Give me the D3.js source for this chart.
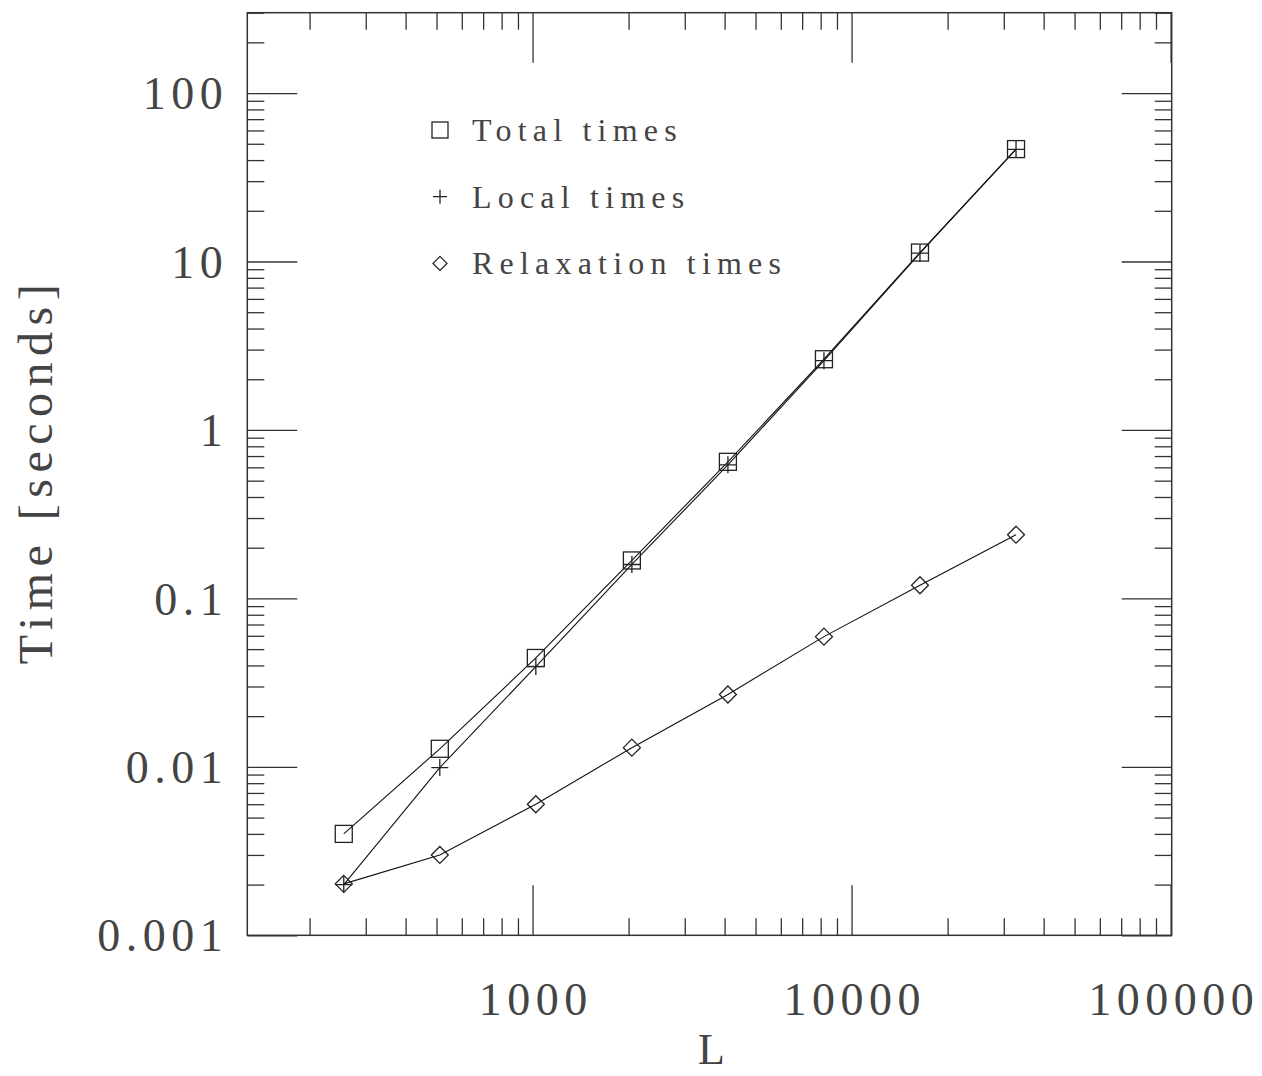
<!DOCTYPE html>
<html>
<head>
<meta charset="utf-8">
<script src="https://cdn.jsdelivr.net/npm/d3@7"></script>
<style>
  html, body { margin: 0; padding: 0; background: #fff; }
  svg { display: block; }
  text { font-family: "Liberation Serif", serif; fill: #444; }
</style>
</head>
<body>
<svg id="chart" width="1262" height="1076"></svg>
<script>
// ---- data ----
const L = [256, 512, 1024, 2048, 4096, 8192, 16384, 32768];
const totalTimes = [0.0040, 0.0128, 0.0443, 0.168, 0.647, 2.63, 11.3, 46.5];
const localTimes = [0.0020, 0.0099, 0.0394, 0.159, 0.621, 2.58, 11.2, 46.3];
const relaxTimes = [0.00202, 0.0030, 0.0060, 0.0130, 0.0269, 0.0593, 0.1197, 0.239];
const seriesNames = ["Total times", "Local times", "Relaxation times"];
const xMajorTicks = [1000, 10000, 100000];
const xTickLabels = ["1000", "10000", "100000"];
const yMajorTicks = [0.001, 0.01, 0.1, 1, 10, 100];
const yTickLabels = ["0.001", "0.01", "0.1", "1", "10", "100"];
const xTitle = "L";
const yTitle = "Time [seconds]";

// ---- layout ----
const pLeft = 247.3, pRight = 1171.7, pTop = 12.7, pBottom = 935.3;
const svg = d3.select("#chart");

const x = d3.scaleLog().domain([127.6, 100800]).range([pLeft, pRight]);
const y = d3.scaleLog().domain([0.001, 300]).range([pBottom, pTop]);

function minorTicks(scale) {
  const [a, b] = scale.domain();
  const out = [];
  for (let e = Math.floor(Math.log10(a)); e <= Math.ceil(Math.log10(b)); e++) {
    for (let m = 2; m <= 9; m++) {
      const v = m * Math.pow(10, e);
      if (v >= a && v <= b) out.push(v);
    }
  }
  return out;
}
const xMinor = minorTicks(x), yMinor = minorTicks(y);
const MAJ = 50, MIN = 17;
const tickStroke = "#333";

function styleAxis(g) {
  g.select(".domain").remove();
  g.selectAll(".tick line").attr("stroke", tickStroke).attr("stroke-width", 1.3);
}

// bottom
svg.append("g").attr("transform", `translate(0,${pBottom})`)
  .call(d3.axisBottom(x).tickValues(xMinor).tickSize(-MIN).tickFormat(""))
  .call(styleAxis);
const bx = svg.append("g").attr("transform", `translate(0,${pBottom})`)
  .call(d3.axisBottom(x).tickValues(xMajorTicks).tickSize(-MAJ).tickPadding(47)
    .tickFormat((d, i) => xTickLabels[i]))
  .call(styleAxis);
bx.selectAll(".tick text").attr("font-size", 46).attr("letter-spacing", "5.5px")
  .attr("dx", 2.75).attr("fill", "#444").attr("font-family", "Liberation Serif");

// top
svg.append("g").attr("transform", `translate(0,${pTop})`)
  .call(d3.axisTop(x).tickValues(xMinor).tickSize(-MIN).tickFormat(""))
  .call(styleAxis);
svg.append("g").attr("transform", `translate(0,${pTop})`)
  .call(d3.axisTop(x).tickValues(xMajorTicks).tickSize(-MAJ).tickFormat(""))
  .call(styleAxis);

// left
svg.append("g").attr("transform", `translate(${pLeft},0)`)
  .call(d3.axisLeft(y).tickValues(yMinor).tickSize(-MIN).tickFormat(""))
  .call(styleAxis);
const ly = svg.append("g").attr("transform", `translate(${pLeft},0)`)
  .call(d3.axisLeft(y).tickValues(yMajorTicks).tickSize(-MAJ).tickPadding(19)
    .tickFormat((d, i) => yTickLabels[i]))
  .call(styleAxis);
ly.selectAll(".tick text").attr("font-size", 46).attr("letter-spacing", "5.5px")
  .attr("dy", "0.34em").attr("fill", "#444").attr("font-family", "Liberation Serif");

// right
svg.append("g").attr("transform", `translate(${pRight},0)`)
  .call(d3.axisRight(y).tickValues(yMinor).tickSize(-MIN).tickFormat(""))
  .call(styleAxis);
svg.append("g").attr("transform", `translate(${pRight},0)`)
  .call(d3.axisRight(y).tickValues(yMajorTicks).tickSize(-MAJ).tickFormat(""))
  .call(styleAxis);

// frame
svg.append("rect").attr("x", pLeft).attr("y", pTop)
  .attr("width", pRight - pLeft).attr("height", pBottom - pTop)
  .attr("fill", "none").attr("stroke", "#333").attr("stroke-width", 1.5);

// titles
svg.append("text").attr("x", (pLeft + pRight) / 2 + 2).attr("y", 1064)
  .attr("text-anchor", "middle").attr("font-size", 44).text(xTitle);
svg.append("text")
  .attr("transform", `translate(52,${467.5 + 3.5}) rotate(-90)`)
  .attr("text-anchor", "middle").attr("font-size", 48)
  .attr("letter-spacing", "6.5px").text(yTitle);

// ---- series ----
const line = d3.line().x(d => x(d[0])).y(d => y(d[1]));
const series = [totalTimes, localTimes, relaxTimes];
const lineG = svg.append("g");
series.forEach(vals => {
  lineG.append("path")
    .attr("d", line(L.map((l, i) => [l, vals[i]])))
    .attr("fill", "none").attr("stroke", "#111").attr("stroke-width", 1.1);
});

function drawMarker(g, kind, cx, cy, s) {
  const h = s / 2;
  if (kind === 0) {
    g.append("rect").attr("x", cx - h).attr("y", cy - h).attr("width", s).attr("height", s)
      .attr("fill", "none").attr("stroke", "#222").attr("stroke-width", 1.3);
  } else if (kind === 1) {
    g.append("path").attr("d", `M${cx - h},${cy}H${cx + h}M${cx},${cy - h}V${cy + h}`)
      .attr("fill", "none").attr("stroke", "#222").attr("stroke-width", 1.3);
  } else {
    g.append("path").attr("d", `M${cx},${cy - h}L${cx + h},${cy}L${cx},${cy + h}L${cx - h},${cy}Z`)
      .attr("fill", "none").attr("stroke", "#222").attr("stroke-width", 1.3);
  }
}
const mk = svg.append("g");
series.forEach((vals, k) => {
  L.forEach((l, i) => drawMarker(mk, k, x(l), y(vals[i]), 17));
});

// ---- legend ----
const lg = svg.append("g");
const legendSizes = [16, 14, 14];
seriesNames.forEach((name, k) => {
  const cy = 130 + k * 66.7;
  drawMarker(lg, k, 440, cy, legendSizes[k]);
  lg.append("text").attr("x", 472).attr("y", cy + 11)
    .attr("font-size", 32).attr("letter-spacing", "6.2px").text(name);
});
</script>
</body>
</html>
